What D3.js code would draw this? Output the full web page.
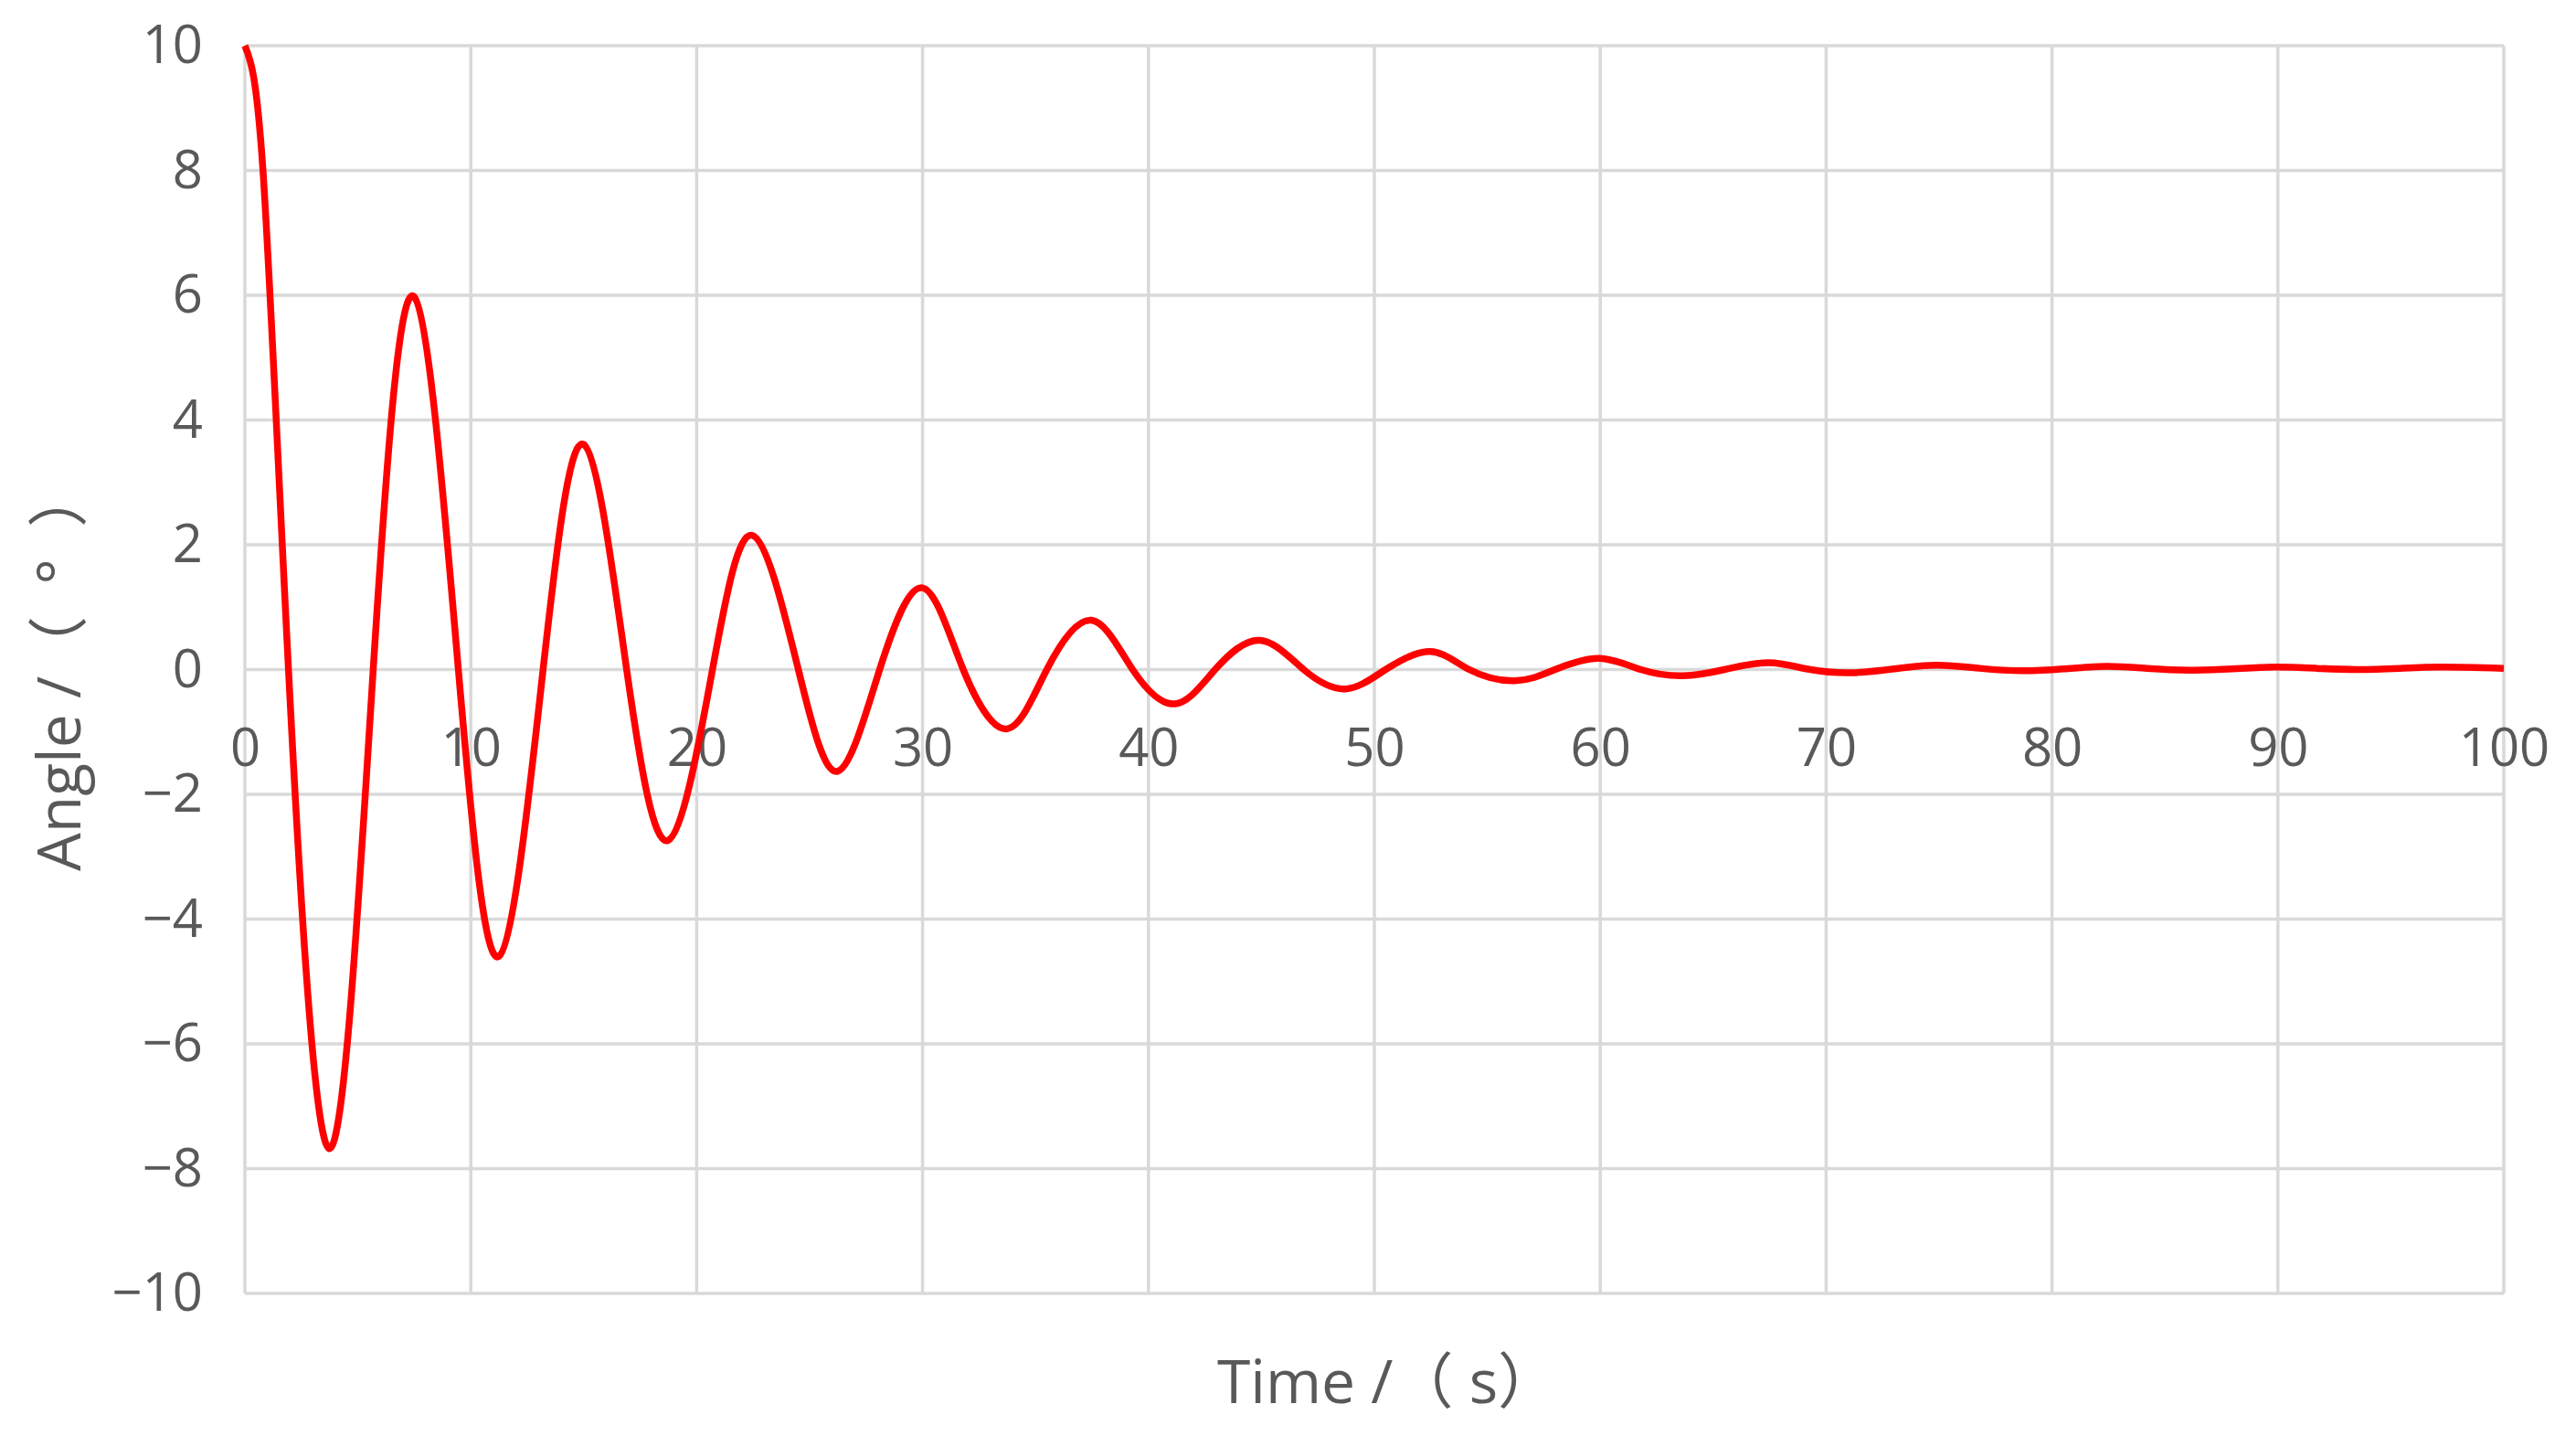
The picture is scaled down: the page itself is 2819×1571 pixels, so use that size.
<!DOCTYPE html>
<html>
<head>
<meta charset="utf-8">
<script src="https://cdn.jsdelivr.net/npm/d3@7"></script>
<style>
    body { margin: 0; background: #fff; }
    text { font-family: "Open Sans", "Noto Sans CJK SC", sans-serif; fill: #595959; }
</style>
</head>
<body>
<script>
'use strict';

// peaks, troughs and the zero crossings between them
const time = [0, 0.8, 1.93, 3.75, 5.68, 7.48, 9.45, 11.24, 13.2, 14.99, 16.9, 18.73, 20.7,
    22.47, 24.5, 26.24, 28.1, 30.0, 31.8, 33.75, 35.5, 37.47, 39.3, 41.18, 42.95, 44.93,
    46.87, 48.72, 50.5, 52.47, 54.2, 56.23, 58.0, 59.95, 61.8, 63.66, 65.5, 67.45, 69.3,
    71.2, 73.0, 74.9, 76.8, 78.7, 80.5, 82.4, 84.2, 86.1, 88.0, 89.8, 91.7, 93.5, 95.4,
    97.3, 100];
const angle = [10, 8.0, 0, -7.68, 0, 5.98, 0, -4.6, 0, 3.61, 0, -2.74, 0,
    2.15, 0, -1.63, 0, 1.31, 0, -0.95, 0, 0.79, 0, -0.55, 0, 0.47,
    0, -0.31, 0, 0.29, 0, -0.18, 0, 0.18, 0, -0.1, 0, 0.11, 0,
    -0.05, 0.01, 0.07, 0.02, -0.02, 0.01, 0.05, 0.02, -0.01, 0.01, 0.04, 0.02, 0, 0.02,
    0.04, 0.02];

const xTicks = [0, 10, 20, 30, 40, 50, 60, 70, 80, 90, 100];
const yTicks = [-10, -8, -6, -4, -2, 0, 2, 4, 6, 8, 10];

const xTitle = "Time /（ s）";
const yTitle = "Angle /（  °  ）";

(function() {

    let svg = ""

    const m = {
        left: 268,
        right: 2740,
        top: 50,
        bottom: 1415
    }

    window.onload = function() {
        svg = d3.select("body").append("svg")
            .attr("width", 2819)
            .attr("height", 1571);

        let x = d3.scaleLinear()
            .domain([0, 100])
            .range([m.left, m.right]);

        let y = d3.scaleLinear()
            .domain([-10, 10])
            .range([m.bottom, m.top]);

        drawGrid(x, y);
        drawAxes(x, y);
        drawLine(x, y);
        drawTitles();
    }

    function drawGrid(x, y) {
        let grid = svg.append("g")
            .attr("stroke", "#d9d9d9")
            .attr("stroke-width", 3.5);

        grid.selectAll(".hgrid")
            .data(yTicks)
            .enter()
            .append("line")
                .attr("x1", m.left)
                .attr("x2", m.right)
                .attr("y1", d => y(d))
                .attr("y2", d => y(d));

        grid.selectAll(".vgrid")
            .data(xTicks)
            .enter()
            .append("line")
                .attr("x1", d => x(d))
                .attr("x2", d => x(d))
                .attr("y1", m.top)
                .attr("y2", m.bottom);
    }

    function drawAxes(x, y) {
        // the time axis crosses at angle 0, labels sit under that line
        let xAxis = d3.axisBottom(x)
            .tickValues(xTicks)
            .tickSize(0)
            .tickPadding(64);

        let yAxis = d3.axisLeft(y)
            .tickValues(yTicks)
            .tickSize(0)
            .tickPadding(46);

        let gx = svg.append("g")
            .attr("transform", "translate(0," + y(0) + ")")
            .call(xAxis);

        let gy = svg.append("g")
            .attr("transform", "translate(" + m.left + ",0)")
            .call(yAxis);

        [gx, gy].forEach(function(g) {
            g.select(".domain").remove();
            g.selectAll("text")
                .attr("font-size", "58px")
                .attr("font-family", null)
                .attr("fill", "#595959");
        });
    }

    function drawLine(x, y) {
        let points = time.map((t, i) => [t, angle[i]]);

        let line = d3.line()
            .x(d => x(d[0]))
            .y(d => y(d[1]))
            .curve(d3.curveNatural);

        svg.append("path")
            .datum(points)
            .attr("fill", "none")
            .attr("stroke", "#ff0000")
            .attr("stroke-width", 7.5)
            .attr("stroke-linejoin", "round")
            .attr("d", line);
    }

    function drawTitles() {
        svg.append("text")
            .attr("x", 1332)
            .attr("y", 1535)
            .attr("font-size", "66px")
            .style("white-space", "pre")
            .text(xTitle);

        svg.append("text")
            .attr("transform", "translate(88,953) rotate(-90)")
            .attr("font-size", "66px")
            .style("white-space", "pre")
            .text(yTitle);
    }
})()
</script>
</body>
</html>
